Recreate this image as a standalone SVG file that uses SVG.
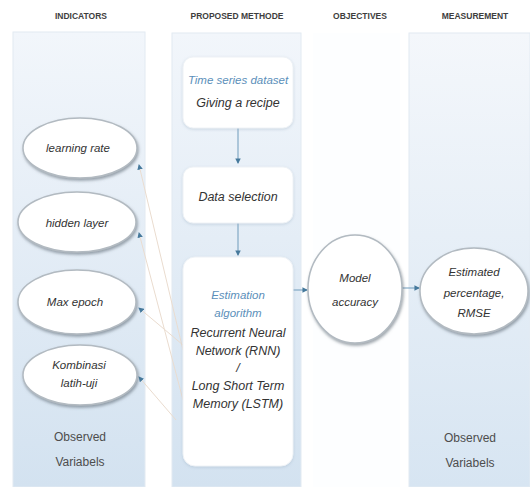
<svg xmlns="http://www.w3.org/2000/svg" width="530" height="487" viewBox="0 0 530 487">
  <defs>
    <linearGradient id="panelFill" x1="0" y1="0" x2="0" y2="1">
      <stop offset="0" stop-color="#f2f6fb"/>
      <stop offset="1" stop-color="#d3e2f0"/>
    </linearGradient>
    <linearGradient id="panelFillR" x1="0" y1="0" x2="0" y2="1">
      <stop offset="0" stop-color="#f4f7fb"/>
      <stop offset="1" stop-color="#d7e5f2"/>
    </linearGradient>
    <filter id="soft" x="-20%" y="-20%" width="140%" height="140%">
      <feDropShadow dx="1" dy="2" stdDeviation="1.5" flood-color="#5f6b74" flood-opacity="0.6"/>
    </filter>
    <filter id="boxShadow" x="-10%" y="-10%" width="120%" height="120%">
      <feDropShadow dx="0" dy="1" stdDeviation="1.5" flood-color="#9fb3c6" flood-opacity="0.45"/>
    </filter>
    <marker id="tip" viewBox="0 0 6 6" refX="5" refY="3" markerWidth="5.5" markerHeight="5.5" orient="auto">
      <path d="M0,0 L6,3 L0,6 z" fill="#46799c"/>
    </marker>
  </defs>
  <style>
    .hdr { font-family: "Liberation Sans", Arial, sans-serif; font-weight: bold; font-size: 8.5px; fill: #3e3e3e; text-anchor: middle; }
    .panel { stroke: #e2eaf2; stroke-width: 1; }
    .box { fill: #ffffff; stroke: #eef2f6; stroke-width: 1; filter: url(#boxShadow); }
    .oval { fill: #ffffff; stroke: #b2bac1; stroke-width: 1.5; filter: url(#soft); }
    .it { font-family: "Liberation Sans", Arial, sans-serif; font-style: italic; font-size: 11.5px; fill: #333333; text-anchor: middle; }
    .big { font-size: 12.5px; }
    .blue { fill: #5b8fba; }
    .obs { font-family: "Liberation Sans", Arial, sans-serif; font-size: 12px; fill: #4d4d4d; text-anchor: middle; }
    .flow { stroke: #6f9bbb; stroke-width: 1; fill: none; marker-end: url(#tip); }
    .feed { stroke: #eadccf; stroke-width: 1; fill: none; marker-end: url(#tip); }
  </style>

  <rect width="530" height="487" fill="#ffffff"/>

  <!-- column headers -->
  <g id="headers">
    <text class="hdr" x="81" y="19">INDICATORS</text>
    <text class="hdr" x="237" y="19">PROPOSED METHODE</text>
    <text class="hdr" x="360" y="19">OBJECTIVES</text>
    <text class="hdr" x="475" y="19">MEASUREMENT</text>
  </g>

  <!-- column panels -->
  <g id="panels">
    <rect class="panel" x="13" y="32" width="132" height="455" fill="url(#panelFill)"/>
    <rect class="panel" x="172" y="33" width="129" height="454" fill="url(#panelFill)"/>
    <rect x="313" y="33" width="87" height="454" fill="#fdfeff"/>
    <rect class="panel" x="409" y="33" width="121" height="454" fill="url(#panelFillR)"/>
  </g>

  <!-- connectors -->
  <g id="connectors">
    <line class="flow" x1="238" y1="128" x2="238" y2="163"/>
    <line class="flow" x1="238" y1="223" x2="238" y2="255"/>
    <line class="flow" x1="293" y1="290" x2="307" y2="290"/>
    <line class="flow" x1="402" y1="288" x2="419" y2="288"/>
    <line class="feed" x1="183" y1="350" x2="139" y2="165"/>
    <line class="feed" x1="183" y1="400" x2="139" y2="233"/>
    <line class="feed" x1="183" y1="345" x2="139" y2="308"/>
    <line class="feed" x1="176" y1="420" x2="139" y2="377"/>
  </g>

  <!-- indicators -->
  <g id="learning-rate">
    <ellipse class="oval" cx="80" cy="148" rx="57" ry="30"/>
    <text class="it" x="78" y="152">learning rate</text>
  </g>
  <g id="hidden-layer">
    <ellipse class="oval" cx="77" cy="222" rx="59" ry="30"/>
    <text class="it" x="77" y="227">hidden layer</text>
  </g>
  <g id="max-epoch">
    <ellipse class="oval" cx="77" cy="302" rx="59" ry="32"/>
    <text class="it" x="75" y="306">Max epoch</text>
  </g>
  <g id="kombinasi">
    <ellipse class="oval" cx="80" cy="375" rx="57" ry="30"/>
    <text class="it" x="79" y="369">Kombinasi</text>
    <text class="it" x="79" y="387">latih-uji</text>
  </g>
  <g id="observed-left">
    <text class="obs" x="80" y="441">Observed</text>
    <text class="obs" x="80" y="466">Variabels</text>
  </g>

  <!-- proposed method -->
  <g id="dataset">
    <rect class="box" x="183" y="57" width="110" height="71" rx="10"/>
    <text class="it blue" x="238" y="84">Time series dataset</text>
    <text class="it big" x="238" y="107">Giving a recipe</text>
  </g>
  <g id="data-selection">
    <rect class="box" x="183" y="167" width="110" height="56" rx="10"/>
    <text class="it big" x="238" y="201">Data selection</text>
  </g>
  <g id="estimation">
    <rect class="box" x="183" y="257" width="110" height="209" rx="12"/>
    <text class="it blue" x="238" y="299">Estimation</text>
    <text class="it blue" x="238" y="317">algorithm</text>
    <text class="it big" x="238" y="337">Recurrent Neural</text>
    <text class="it big" x="238" y="355">Network (RNN)</text>
    <text class="it big" x="238" y="372">/</text>
    <text class="it big" x="238" y="390">Long Short Term</text>
    <text class="it big" x="238" y="408">Memory (LSTM)</text>
  </g>

  <!-- objective -->
  <g id="model-accuracy">
    <ellipse class="oval" cx="355" cy="289" rx="47" ry="54"/>
    <text class="it" x="355" y="282">Model</text>
    <text class="it" x="355" y="306">accuracy</text>
  </g>

  <!-- measurement -->
  <g id="estimated">
    <ellipse class="oval" cx="474" cy="291" rx="54" ry="43"/>
    <text class="it" x="474" y="276">Estimated</text>
    <text class="it" x="474" y="297">percentage,</text>
    <text class="it" x="474" y="317">RMSE</text>
  </g>
  <g id="observed-right">
    <text class="obs" x="470" y="442">Observed</text>
    <text class="obs" x="470" y="467">Variabels</text>
  </g>
</svg>
